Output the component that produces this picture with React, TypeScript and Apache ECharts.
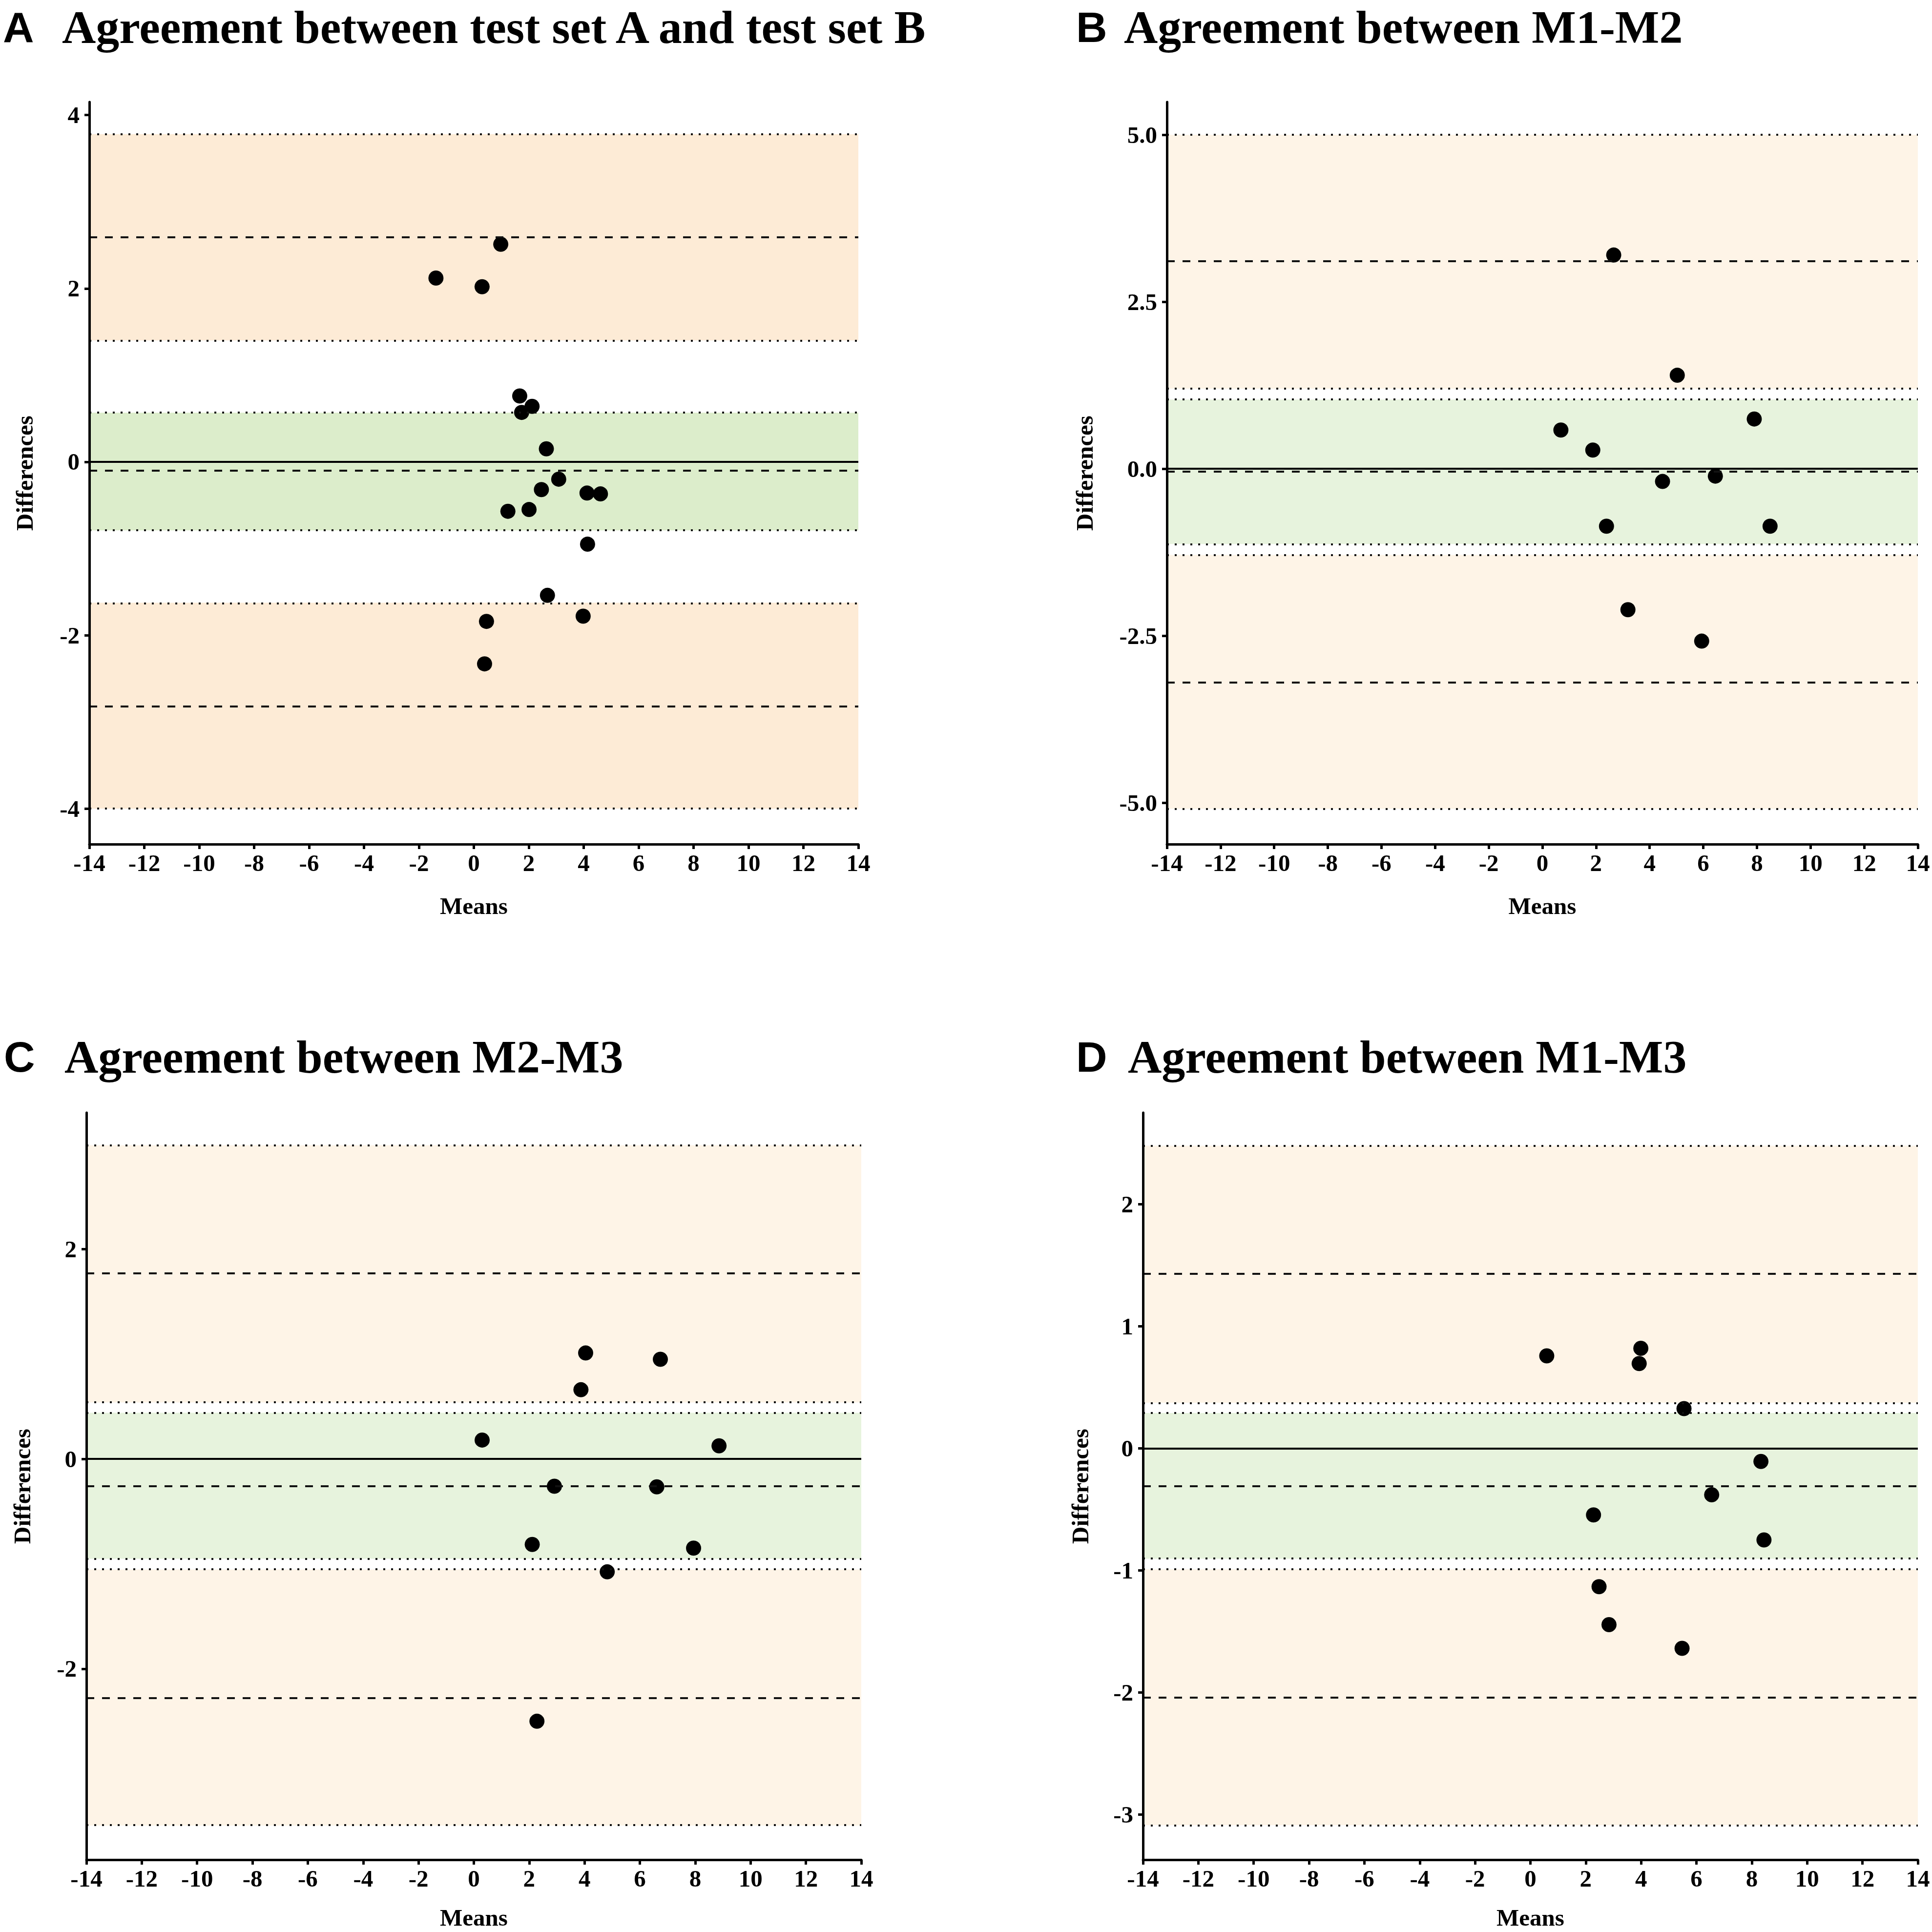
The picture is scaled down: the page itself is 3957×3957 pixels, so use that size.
import React, { useEffect, useRef } from "react";
import * as echarts from "echarts";

const SERIF = '"Liberation Serif", "Times New Roman", Times, serif';
const SANS = '"Liberation Sans", Arial, Helvetica, sans-serif';

// ---------- text ----------
const panelLetters = ["A", "B", "C", "D"];
const panelTitles = [
  "Agreement between test set A and test set B",
  "Agreement between M1-M2",
  "Agreement between M2-M3",
  "Agreement between M1-M3",
];
const xAxisName = "Means";
const yAxisName = "Differences";

// ---------- axes ----------
const xRange = [-14, 14];
const xInterval = 2;
const yRangeA = [-4.41, 4.15];
const yRangeB = [-5.62, 5.49];
const yRangeC = [-3.82, 3.3];
const yRangeD = [-3.37, 2.75];
const yTicksA = [-4, -2, 0, 2, 4];
const yTicksB = [-5, -2.5, 0, 2.5, 5];
const yTicksC = [-2, 0, 2];
const yTicksD = [-3, -2, -1, 0, 1, 2];
const yDecimals = [0, 1, 0, 0];

// ---------- limits: [lowerLoA CI lo, lowerLoA, lowerLoA CI hi, bias CI lo, bias, bias CI hi, upperLoA CI lo, upperLoA, upperLoA CI hi]
const limitsA = [-4.0, -2.816, -1.625, -0.79, -0.105, 0.567, 1.4, 2.59, 3.78];
const limitsB = [-5.09, -3.2, -1.29, -1.127, -0.036, 1.036, 1.2, 3.11, 5.0];
const limitsC = [-3.494, -2.276, -1.053, -0.951, -0.255, 0.44, 0.538, 1.767, 2.99];
const limitsD = [-3.087, -2.04, -0.99, -0.904, -0.306, 0.29, 0.374, 1.43, 2.48];

// ---------- points ----------
const meansA = [-1.38, 0.98, 0.3, 1.67, 1.74, 2.12, 2.64, 3.09, 2.46, 1.24, 2.01, 4.12, 4.61, 4.14, 2.68, 3.98, 0.46, 0.39];
const diffsA = [2.12, 2.51, 2.02, 0.76, 0.57, 0.64, 0.15, -0.2, -0.32, -0.57, -0.55, -0.36, -0.37, -0.95, -1.54, -1.78, -1.84, -2.33];
const meansB = [2.66, 5.03, 0.69, 1.88, 7.9, 4.48, 6.45, 2.39, 8.49, 3.19, 5.94];
const diffsB = [3.2, 1.4, 0.58, 0.28, 0.745, -0.19, -0.11, -0.86, -0.86, -2.11, -2.58];
const meansC = [4.04, 6.74, 3.87, 0.3, 8.86, 2.91, 6.61, 2.11, 7.94, 4.82, 2.28];
const diffsC = [1.01, 0.95, 0.66, 0.18, 0.125, -0.26, -0.266, -0.815, -0.85, -1.076, -2.5];
const meansD = [0.59, 3.99, 3.93, 5.55, 8.33, 6.55, 2.28, 8.44, 2.48, 2.84, 5.48];
const diffsD = [0.758, 0.82, 0.695, 0.326, -0.107, -0.38, -0.545, -0.75, -1.133, -1.444, -1.638];

// ---------- layout & style (not data) ----------
const layout = [
  { left: 183, top: 209, width: 1575, height: 1520, yNameGap: 108, xNameGap: 102, letterX: 6, titleX: 127, titleY: 55 },
  { left: 2390, top: 209, width: 1538, height: 1520, yNameGap: 144, xNameGap: 102, letterX: 2204, titleX: 2302, titleY: 55 },
  { left: 177, top: 2279, width: 1587, height: 1530, yNameGap: 107, xNameGap: 94, letterX: 8, titleX: 132, titleY: 2164 },
  { left: 2341, top: 2279, width: 1587, height: 1530, yNameGap: 104, xNameGap: 94, letterX: 2204, titleX: 2310, titleY: 2164 },
];
const bandColors = [
  { orange: "#FDEBD6", green: "#DCEDCB" },
  { orange: "#FEF4E7", green: "#E7F3DD" },
  { orange: "#FEF4E7", green: "#E7F3DD" },
  { orange: "#FEF4E7", green: "#E7F3DD" },
];

const DOTTED = [4, 12];
const DASHED = [16, 16];

export default function App() {
  const ref = useRef<HTMLDivElement>(null);

  useEffect(() => {
    document.body.style.margin = "0";
    if (!ref.current) return;
    const chart = echarts.init(ref.current, null, { renderer: "svg" });

    const yRanges = [yRangeA, yRangeB, yRangeC, yRangeD];
    const yTicks = [yTicksA, yTicksB, yTicksC, yTicksD];
    const limits = [limitsA, limitsB, limitsC, limitsD];
    const means = [meansA, meansB, meansC, meansD];
    const diffs = [diffsA, diffsB, diffsC, diffsD];

    const labelStyle = { fontFamily: SERIF, fontWeight: "bold" as const, fontSize: 49, color: "#000" };

    const grid = layout.map((l) => ({ left: l.left, top: l.top, width: l.width, height: l.height, containLabel: false }));

    const xAxis = layout.map((l, i) => ({
      type: "value",
      gridIndex: i,
      z: 10,
      min: xRange[0],
      max: xRange[1],
      interval: xInterval,
      name: xAxisName,
      nameLocation: "middle",
      nameGap: l.xNameGap,
      nameTextStyle: labelStyle,
      axisLine: { show: true, onZero: false, lineStyle: { color: "#000", width: 5 } },
      axisTick: { show: true, length: 10, lineStyle: { color: "#000", width: 5 } },
      axisLabel: { ...labelStyle, margin: 14 },
      splitLine: { show: false },
    }));

    const yAxis = layout.map((l, i) => ({
      type: "value",
      gridIndex: i,
      z: 10,
      min: yRanges[i][0],
      max: yRanges[i][1],
      name: yAxisName,
      nameLocation: "middle",
      nameRotate: 90,
      nameGap: l.yNameGap,
      nameTextStyle: labelStyle,
      axisLine: { show: true, onZero: false, lineStyle: { color: "#000", width: 5 } },
      axisTick: { show: true, length: 10, customValues: yTicks[i], lineStyle: { color: "#000", width: 5 } },
      axisLabel: {
        ...labelStyle,
        margin: 20,
        customValues: yTicks[i],
        formatter: (v: number) => v.toFixed(yDecimals[i]),
      },
      splitLine: { show: false },
    }));

    const series: any[] = [];
    layout.forEach((l, i) => {
      const lim = limits[i];
      const c = bandColors[i];
      series.push({
        type: "line",
        name: "bands" + i,
        xAxisIndex: i,
        yAxisIndex: i,
        data: [],
        z: 1,
        silent: true,
        markArea: {
          silent: true,
          data: [
            [{ yAxis: lim[0], itemStyle: { color: c.orange, opacity: 1 } }, { yAxis: lim[2] }],
            [{ yAxis: lim[3], itemStyle: { color: c.green, opacity: 1 } }, { yAxis: lim[5] }],
            [{ yAxis: lim[6], itemStyle: { color: c.orange, opacity: 1 } }, { yAxis: lim[8] }],
          ],
        },
      });
      const styleFor = (k: number) => (k === 1 || k === 4 || k === 7 ? DASHED : DOTTED);
      series.push({
        type: "line",
        name: "limits" + i,
        xAxisIndex: i,
        yAxisIndex: i,
        data: [],
        z: 2,
        silent: true,
        markLine: {
          silent: true,
          symbol: "none",
          label: { show: false },
          data: [
            ...lim.map((v, k) => ({
              yAxis: v,
              lineStyle: { type: styleFor(k), width: 4, color: "#111", cap: "butt", opacity: 1 },
            })),
            { yAxis: 0, lineStyle: { type: "solid", width: 4, color: "#000", opacity: 1 } },
          ],
        },
      });
      series.push({
        type: "scatter",
        name: "points" + i,
        xAxisIndex: i,
        yAxisIndex: i,
        z: 3,
        symbol: "circle",
        symbolSize: 31,
        itemStyle: { color: "#000", opacity: 1 },
        data: means[i].map((m, k) => [m, diffs[i][k]]),
      });
    });

    const graphic: any[] = [];
    layout.forEach((l, i) => {
      graphic.push({
        type: "text",
        x: l.letterX,
        y: l.titleY,
        style: {
          text: panelLetters[i],
          font: `bold 88px ${SANS}`,
          lineHeight: 80,
          fill: "#000",
          align: "left",
          textAlign: "left",
          verticalAlign: "middle",
          textVerticalAlign: "middle",
        },
      });
      graphic.push({
        type: "text",
        x: l.titleX,
        y: l.titleY,
        style: {
          text: panelTitles[i],
          font: `bold 96px ${SERIF}`,
          lineHeight: 86,
          fill: "#000",
          align: "left",
          textAlign: "left",
          verticalAlign: "middle",
          textVerticalAlign: "middle",
        },
      });
    });

    chart.setOption({
      animation: false,
      backgroundColor: "#fff",
      grid,
      xAxis,
      yAxis,
      series,
      graphic,
    });

    return () => chart.dispose();
  }, []);

  return <div ref={ref} style={{ width: 3957, height: 3957 }} />;
}
